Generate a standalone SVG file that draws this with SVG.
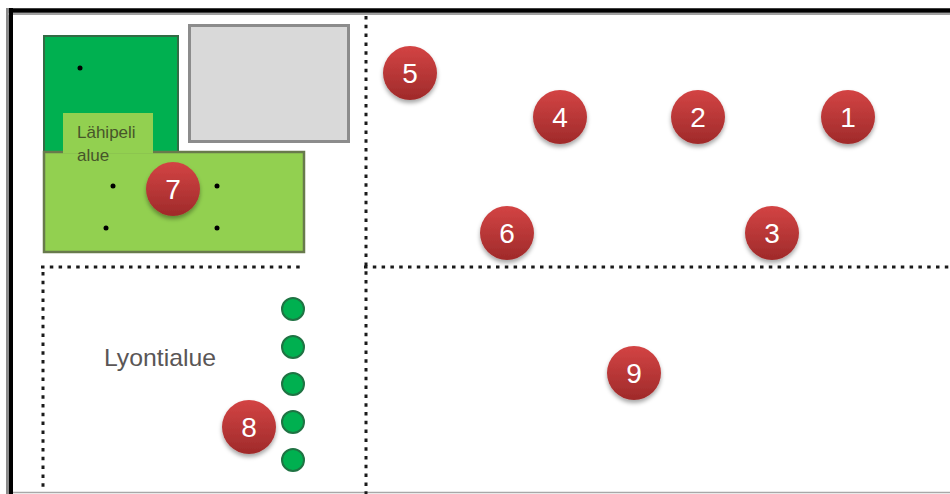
<svg xmlns="http://www.w3.org/2000/svg" width="950" height="494" viewBox="0 0 950 494">
<defs>
<linearGradient id="rg" x1="0" y1="0" x2="0" y2="1">
<stop offset="0" stop-color="#d34444"/>
<stop offset="1" stop-color="#9f2a2a"/>
</linearGradient>
<filter id="sh" x="-40%" y="-40%" width="180%" height="190%">
<feDropShadow dx="0" dy="3" stdDeviation="2" flood-color="#000" flood-opacity="0.35"/>
</filter>
<style>
.badge circle{fill:url(#rg);filter:url(#sh)}
.badge text{font-family:"Liberation Sans",Arial,sans-serif;font-size:28px;fill:#fff;text-anchor:middle}
.dot{fill:#000}
.gc{fill:#00b050;stroke:#1f7343;stroke-width:2}
.dl{stroke:#1a1a1a;stroke-width:3;stroke-dasharray:3.5 5.3;fill:none}
.lbl{font-family:"Liberation Sans",Arial,sans-serif}
</style>
</defs>
<rect x="0" y="0" width="950" height="494" fill="#fff"/>
<g id="frame">
<line x1="7.5" y1="8" x2="7.5" y2="494" stroke="#8a8a8a" stroke-width="3"/>
<line x1="8" y1="14" x2="950" y2="14" stroke="#a0a0a0" stroke-width="2"/>
<line x1="11" y1="8" x2="11" y2="494" stroke="#000" stroke-width="4"/>
<line x1="9" y1="10.5" x2="950" y2="10.5" stroke="#000" stroke-width="4.5"/>
<line x1="13" y1="492.5" x2="950" y2="492.5" stroke="#a8a8a8" stroke-width="1.5"/>
</g>
<g id="connectors">
<line class="dl" x1="366" y1="16" x2="366" y2="494"/>
<line class="dl" x1="364" y1="267" x2="950" y2="267"/>
<line class="dl" x1="41" y1="267" x2="305" y2="267"/>
<line class="dl" x1="43" y1="272" x2="43" y2="490"/>
</g>
<g id="area-dark">
<rect x="44" y="36" width="134" height="116" fill="#00b050" stroke="#336b45" stroke-width="2"/>
<circle class="dot" cx="80" cy="68" r="2.5"/>
</g>
<g id="block-gray">
<rect x="189.5" y="25.5" width="159" height="116" fill="#d9d9d9" stroke="#8c8c8c" stroke-width="3"/>
</g>
<g id="area-lahipeli">
<rect x="44" y="152" width="260" height="100" fill="#92d050" stroke="#687a4c" stroke-width="2.5"/>
<rect x="63" y="113" width="90" height="40.5" fill="#92d050"/>
<text class="lbl" x="77" y="138" font-size="17" fill="#47552a">Lähipeli</text>
<text class="lbl" x="77" y="161" font-size="17" fill="#47552a">alue</text>
<circle class="dot" cx="113" cy="186" r="2.5"/>
<circle class="dot" cx="217" cy="186" r="2.5"/>
<circle class="dot" cx="106" cy="228" r="2.5"/>
<circle class="dot" cx="217" cy="228" r="2.5"/>
</g>
<g id="area-lyonti">
<text class="lbl" x="104" y="366" font-size="24" fill="#5a5656" textLength="112" lengthAdjust="spacingAndGlyphs">Lyontialue</text>
<circle class="gc" cx="293" cy="309" r="11"/>
<circle class="gc" cx="293" cy="347" r="11"/>
<circle class="gc" cx="293" cy="384" r="11"/>
<circle class="gc" cx="293" cy="422" r="11"/>
<circle class="gc" cx="293" cy="460" r="11"/>
</g>
<g id="n1" class="badge"><circle cx="848" cy="117" r="27"/><text x="848" y="127">1</text></g>
<g id="n2" class="badge"><circle cx="698" cy="117" r="27"/><text x="698" y="127">2</text></g>
<g id="n3" class="badge"><circle cx="772" cy="233" r="27"/><text x="772" y="243">3</text></g>
<g id="n4" class="badge"><circle cx="560" cy="117" r="27"/><text x="560" y="127">4</text></g>
<g id="n5" class="badge"><circle cx="410" cy="73" r="27"/><text x="410" y="83">5</text></g>
<g id="n6" class="badge"><circle cx="507" cy="233" r="27"/><text x="507" y="243">6</text></g>
<g id="n7" class="badge"><circle cx="173" cy="189" r="27"/><text x="173" y="199">7</text></g>
<g id="n8" class="badge"><circle cx="249" cy="427" r="27"/><text x="249" y="437">8</text></g>
<g id="n9" class="badge"><circle cx="634" cy="373" r="27"/><text x="634" y="383">9</text></g>
</svg>
